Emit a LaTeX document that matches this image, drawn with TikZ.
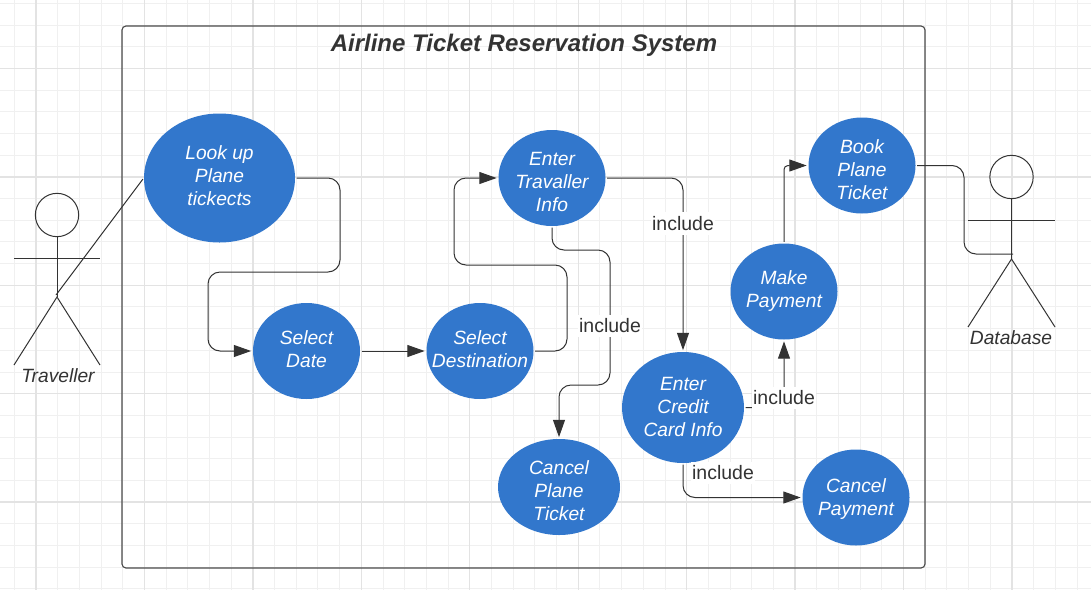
\documentclass[tikz,border=0pt]{standalone}
\usepackage{fontspec}
\setmainfont{Liberation Sans}
\usetikzlibrary{shapes.geometric,arrows.meta}
\definecolor{ink}{HTML}{333333}
\definecolor{framecol}{HTML}{4A4A4A}
\definecolor{ucblue}{HTML}{3277CC}
\definecolor{gridminor}{HTML}{F0F0F0}
\definecolor{gridmajor}{HTML}{E3E3E3}
\newcommand{\uct}[2]{\makebox[0pt]{\raisebox{\dimexpr#1pt-3.6pt\relax}[0pt][0pt]{\begin{tabular}{@{}c@{}}#2\end{tabular}}}}
\tikzset{
  x=0.75pt,y=-0.75pt,
  usecase/.style 2 args={ellipse,fill=ucblue,draw=none,inner sep=0pt,
    minimum width=#1*0.75pt,minimum height=#2*0.75pt,text=white,
    font=\fontsize{14.4pt}{17.25pt}\selectfont\itshape},
  conn/.style={draw=ink,line width=0.75pt,rounded corners=9pt,shorten <=1pt,shorten >=1.2pt,
    -{Triangle[length=13pt,width=9pt,fill=ink]}},
  plainconn/.style={draw=ink,line width=0.75pt,rounded corners=9pt,shorten <=1pt},
  stick/.style={draw=ink,line width=0.75pt},
  tag/.style={fill=white,inner xsep=1pt,inner ysep=3pt,text=ink,font=\fontsize{14.6pt}{17pt}\selectfont},
  actorname/.style={inner sep=0pt,text=ink,font=\fontsize{14.4pt}{17pt}\selectfont\itshape},
}
\begin{document}
\begin{tikzpicture}
\useasboundingbox (0,0) rectangle (1091,590);
\fill[white] (0,0) rectangle (1091,590);
% grid
\foreach \k in {-1,...,50} {
  \pgfmathsetmacro{\gx}{36+21.69*\k}
  \draw[gridminor,line width=0.75pt] (\gx,0) -- (\gx,590);
}
\foreach \k in {-3,...,27} {
  \pgfmathsetmacro{\gy}{68.5+21.68*\k}
  \draw[gridminor,line width=0.75pt] (0,\gy) -- (1091,\gy);
}
\foreach \k in {0,...,9} {
  \pgfmathsetmacro{\gx}{36+108.44*\k}
  \draw[gridmajor,line width=1pt] (\gx,0) -- (\gx,590);
}
\foreach \k in {0,...,4} {
  \pgfmathsetmacro{\gy}{68.5+108.4*\k}
  \draw[gridmajor,line width=1pt] (0,\gy) -- (1091,\gy);
}
% frame
\draw[framecol,line width=0.85pt,rounded corners=3pt] (122,26) rectangle (925,568);
\node[inner sep=0pt,text=ink,font=\fontsize{18pt}{20pt}\selectfont\bfseries\itshape] (title) at (524,45.5) {Airline Ticket Reservation System};
% use cases
\node[usecase={151}{129}] (look) at (219.5,178) {\uct{0}{Look up\\Plane\\tickects}};
\node[usecase={107}{96}] (date) at (306.5,351) {\uct{-0.4}{Select\\Date}};
\node[usecase={107}{96}] (dest) at (480,351) {\uct{-0.4}{Select\\Destination}};
\node[usecase={107}{96}] (info) at (552,178) {\uct{-4.5}{Enter\\Travaller\\Info}};
\node[usecase={122}{96}] (cplane) at (559,487) {\uct{-4.5}{Cancel\\Plane\\Ticket}};
\node[usecase={122}{111}] (card) at (683,407.5) {\uct{-0.75}{Enter\\Credit\\Card Info}};
\node[usecase={107}{96}] (pay) at (784,291.5) {\uct{0}{Make\\Payment}};
\node[usecase={107}{96}] (book) at (862,165.5) {\uct{-4.5}{Book\\Plane\\Ticket}};
\node[usecase={107}{96}] (cpay) at (856,497.5) {\uct{-1.5}{Cancel\\Payment}};
% actors
\node[circle,draw=ink,line width=0.75pt,minimum size=32.5pt,inner sep=0pt] (thead) at (57,215) {};
\coordinate (thip) at (57,297);
\coordinate (tarml) at (14,258);
\coordinate (tarmr) at (100,258);
\coordinate (tfootl) at (14,365);
\coordinate (tfootr) at (100,365);
\draw[stick] (thead.south) -- (thip);
\draw[stick] (tarml) -- (tarmr);
\draw[stick] (tfootl) -- (thip) -- (tfootr);
\node[actorname] (tname) at (58,375.5) {Traveller};
\node[circle,draw=ink,line width=0.75pt,minimum size=32.5pt,inner sep=0pt] (dhead) at (1011.5,177) {};
\coordinate (dhip) at (1011.5,259);
\coordinate (darml) at (968,220);
\coordinate (darmr) at (1055,220);
\coordinate (dfootl) at (968,327);
\coordinate (dfootr) at (1055,327);
\draw[stick] (dhead.south) -- (dhip);
\draw[stick] (darml) -- (darmr);
\draw[stick] (dfootl) -- (dhip) -- (dfootr);
\node[actorname] (dname) at (1011,338) {Database};
% connectors
\coordinate (thand) at (56,295);
\draw[plainconn] (look.west) -- (thand);
\coordinate (a1) at (340,272);
\coordinate (a2) at (208,272);
\draw[conn] (look.east) -| (a1) -- (a2) |- (date.west);
\draw[conn] (date.east) -- (dest.west);
\coordinate (b1) at (567,265);
\coordinate (b2) at (454,265);
\draw[conn] (dest.east) -| (b1) -- (b2) |- (info.west);
\draw[conn] (info.east) -| (card.north);
\coordinate (c1) at (610,250);
\coordinate (c2) at (610,385);
\coordinate (c0) at (552,250);
\draw[conn] (info.south) -- (c0) -- (c1) -- (c2) -| (cplane.north);
\draw[conn] (card.east) -| (pay.south);
\draw[conn] (card.south) |- (cpay.west);
\draw[conn,rounded corners=3pt] (pay.north) |- (book.west);
\coordinate (dtorso) at (1013,254);
\draw[plainconn] (book.east) -| (964,210) |- (dtorso);
% labels
\node[tag] (l1) at (683,223.5) {include};
\node[tag] (l2) at (610,326) {include};
\node[tag] (l3) at (784,398) {include};
\node[tag] (l4) at (723,473) {include};
\end{tikzpicture}
\end{document}
